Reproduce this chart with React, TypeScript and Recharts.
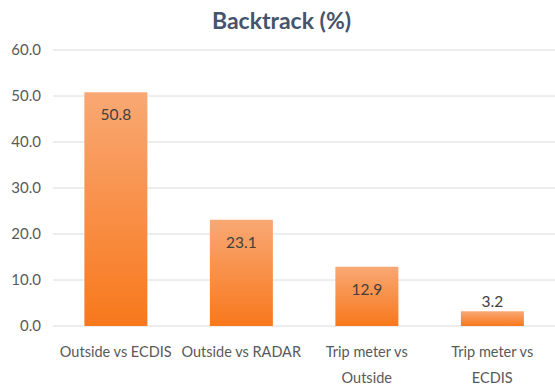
import React from 'react';
import { BarChart, Bar, XAxis, YAxis, CartesianGrid, LabelList } from 'recharts';

const categories = ['Outside vs ECDIS', 'Outside vs RADAR', 'Trip meter vs\nOutside', 'Trip meter vs\nECDIS'];
const backtrack = [50.8, 23.1, 12.9, 3.2];
const yTicks = [0, 10, 20, 30, 40, 50, 60];
const title = 'Backtrack (%)';

const data = categories.map((c, i) => ({ name: c, value: backtrack[i] }));
const FONT = 'Lato, "Open Sans", sans-serif';

const XTick = (props: any) => {
  const { x, y, payload } = props;
  const lines = String(payload.value).split('\n');
  return (
    <g transform={`translate(${x},${y})`}>
      {lines.map((l: string, i: number) => (
        <text key={i} x={0} y={0} dy={23 + i * 26} textAnchor="middle" fill="#595959" fontSize={14.5} fontFamily={FONT}>
          {l}
        </text>
      ))}
    </g>
  );
};

const ValueLabel = (props: any) => {
  const { x, y, width, height, value } = props;
  const inside = height > 30;
  const ty = inside ? y + 28 : y - 4;
  return (
    <text x={x + width / 2} y={ty} textAnchor="middle" fill="#404040" fontSize={15.5} fontFamily={FONT}>
      {Number(value).toFixed(1)}
    </text>
  );
};

export default function App() {
  return (
    <div style={{ position: 'absolute', left: 0, top: 0, width: 555, height: 389, background: '#fff' }}>
      <div style={{ position: 'absolute', left: 0, top: 6, width: 563, textAlign: 'center', fontFamily: FONT, fontWeight: 700, fontSize: 23, color: '#44546a' }}>
        {title}
      </div>
      <BarChart width={555} height={389} data={data} margin={{ top: 50, right: 0, bottom: 8, left: 0 }} barCategoryGap="25%">
        <defs>
          <linearGradient id="barGrad" x1="0" y1="0" x2="0" y2="1">
            <stop offset="0%" stopColor="#f9a874" />
            <stop offset="100%" stopColor="#f8781c" />
          </linearGradient>
        </defs>
        <CartesianGrid vertical={false} stroke="#dcdcdc" />
        <XAxis dataKey="name" axisLine={false} tickLine={false} tick={<XTick />} height={55} interval={0} />
        <YAxis
          domain={[0, 60]}
          ticks={yTicks}
          width={53}
          axisLine={false}
          tickLine={false}
          tickMargin={6}
          tickFormatter={(v: number) => v.toFixed(1)}
          tick={{ fill: '#595959', fontSize: 15, fontFamily: FONT }}
        />
        <Bar dataKey="value" fill="url(#barGrad)" isAnimationActive={false}>
          <LabelList dataKey="value" content={<ValueLabel />} />
        </Bar>
      </BarChart>
    </div>
  );
}
